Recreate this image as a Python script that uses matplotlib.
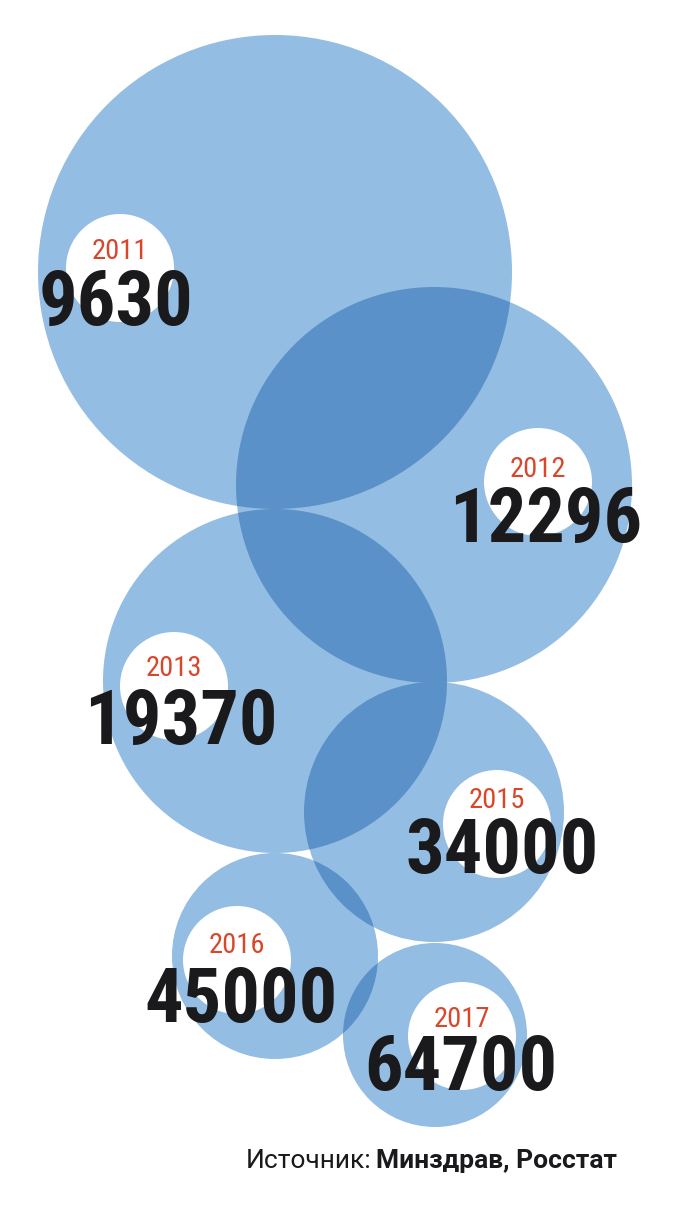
import matplotlib
matplotlib.use("Agg")
import matplotlib.pyplot as plt
from matplotlib.patches import Circle
from matplotlib import font_manager

# Data
years = ["2011", "2012", "2013", "2015", "2016", "2017"]
values = [9630, 12296, 19370, 34000, 45000, 64700]

# Layout (pixels, figure is 680x1213)
bubble_x = [275, 434, 275, 434, 275, 435]
bubble_y = [272, 485, 681, 812, 956, 1035]
bubble_r = [237, 198, 172, 130, 103, 92]
hole_x = [120, 538, 174, 497, 237, 462]
hole_y = [268, 482, 686, 824, 960, 1036]
hole_r = 54
year_base = [259, 477, 676, 808, 953, 1027]
num_x = [116, 546, 181, 502, 241, 461]
num_base = [325, 542, 744, 873, 1022, 1090]

LIGHT = "#93bde2"
DARK = "#5a91c8"
RED = "#d9472b"
INK = "#1a1a1d"

names = {f.name for f in font_manager.fontManager.ttflist}
def pick(*cands):
    return [n for n in cands if n in names][:1] + ["DejaVu Sans"]

fam = pick("Roboto Condensed", "Fira Sans Condensed", "Barlow Condensed")
src_fam = pick("Roboto", "Roboto Condensed")

fig = plt.figure(figsize=(6.8, 12.13), dpi=100)
ax = fig.add_axes([0, 0, 1, 1])
ax.set_xlim(0, 680)
ax.set_ylim(1213, 0)
ax.set_aspect("equal")
ax.axis("off")

circles = []
for x, y, r in zip(bubble_x, bubble_y, bubble_r):
    c = Circle((x, y), r, facecolor=LIGHT, edgecolor="none", zorder=1)
    ax.add_patch(c)
    circles.append(c)

# darker overlap (multiply look)
for i in range(len(circles)):
    for j in range(i + 1, len(circles)):
        o = Circle((bubble_x[j], bubble_y[j]), bubble_r[j], facecolor=DARK,
                   edgecolor="none", zorder=2)
        ax.add_patch(o)
        o.set_clip_path(circles[i])

for i in range(len(years)):
    ax.add_patch(Circle((hole_x[i], hole_y[i]), hole_r, facecolor="white",
                        edgecolor="none", zorder=3))
    ax.text(hole_x[i], year_base[i], years[i], color=RED, fontsize=20.5,
            family=fam, ha="center", va="baseline", zorder=4)
    ax.text(num_x[i], num_base[i], str(values[i]), color=INK, fontsize=55,
            fontweight="heavy", family=fam, ha="center", va="baseline", zorder=4)

src_b = ax.text(617, 1168, "Минздрав, Росстат", color=INK, fontsize=19,
                fontweight="bold", family=src_fam, ha="right", va="baseline")
fig.canvas.draw()
bb = src_b.get_window_extent().transformed(ax.transData.inverted())
ax.text(min(bb.x0, bb.x1) - 5, 1168, "Источник:", color=INK, fontsize=19,
        fontweight="normal", family=src_fam, ha="right", va="baseline")

fig.savefig("out.png", dpi=100)
